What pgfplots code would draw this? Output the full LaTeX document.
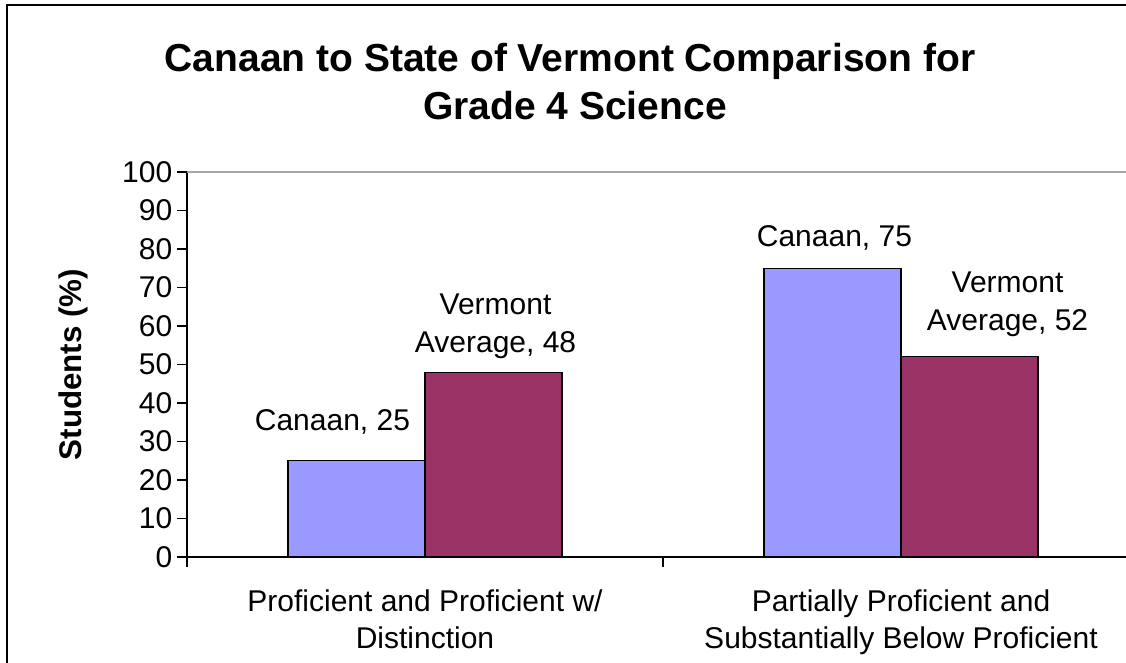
\documentclass[border=0pt]{standalone}
\usepackage{pgfplots}
\pgfplotsset{compat=1.18}
\usepackage{pgfplotstable}
\usepackage{fontspec}
\setmainfont{Liberation Sans}
\definecolor{canaanc}{HTML}{9999FF}
\definecolor{vermontc}{HTML}{993366}

\pgfplotstableread{
x y dx dy label
0 25 -24 26 {Canaan, 25}
1 75 2 17 {Canaan, 75}
}\tcanaan
\pgfplotstableread{
x y dx dy label
0 48 2 13 {Vermont\\Average, 48}
1 52 38 19 {Vermont\\Average, 52}
}\tvermont

\newcommand\lblfont{\fontsize{22.5}{28.5}\selectfont}

\begin{document}
\begin{tikzpicture}[x=0.75pt,y=0.75pt]
\useasboundingbox (0,0) rectangle (1126,662);
\clip (0,0) rectangle (1126,662);
\fill[white] (0,0) rectangle (1126,662);
\draw[line width=1.5pt] (7,-20) -- (7,657) -- (1140,657);
\node[anchor=base, font=\fontsize{29.25}{35}\bfseries\selectfont] at (570,590) {Canaan to State of Vermont Comparison for};
\node[anchor=base, font=\fontsize{29.25}{35}\bfseries\selectfont] at (575,542) {Grade 4 Science};
\begin{axis}[
  at={(140.25pt,78.75pt)}, anchor=south west,
  scale only axis, width=714pt, height=288.75pt,
  ybar, bar width=0.288,
  xmin=-0.5, xmax=1.5, ymin=0, ymax=100,
  ytick={0,10,...,100},
  xtick={-0.5,0.5,1.5}, xticklabels={},
  extra x ticks={0,1},
  extra x tick labels={{Proficient and Proficient w/\\Distinction},{Partially Proficient and\\Substantially Below Proficient}},
  extra x tick style={major tick length=0pt},
  axis lines*=left,
  axis line style={-, line width=1pt, black},
  tick align=outside,
  major tick length=7.5pt,
  tick style={black, line width=0.8pt},
  /pgf/number format/assume math mode=true,
  tick label style={font=\lblfont},
  xticklabel style={align=center, font=\fontsize{22.5}{28}\selectfont, yshift=-21pt},
  every axis y label/.style={at={(axis description cs:-0.1197,0.5)}, rotate=90, anchor=center},
  ylabel={\fontsize{23.5}{28}\bfseries\selectfont Students (\%)},
  clip=false,
]
\draw[gray!70, line width=1.2pt] (rel axis cs:0,1) -- (rel axis cs:1,1);
\addplot[fill=canaanc, draw=black, line width=1pt, bar shift=-0.144,
  point meta=explicit symbolic, nodes near coords,
  visualization depends on={\thisrow{dx}\as\labdx},
  visualization depends on={\thisrow{dy}\as\labdy},
  every node near coord/.append style={anchor=south, inner sep=0pt, align=center, text=black,
    xshift=\labdx*0.75pt, yshift=\labdy*0.75pt, font=\lblfont}]
  table[x=x, y=y, meta=label] {\tcanaan};
\addplot[fill=vermontc, draw=black, line width=1pt, bar shift=0.144,
  point meta=explicit symbolic, nodes near coords,
  visualization depends on={\thisrow{dx}\as\labdx},
  visualization depends on={\thisrow{dy}\as\labdy},
  every node near coord/.append style={anchor=south, inner sep=0pt, align=center, text=black,
    xshift=\labdx*0.75pt, yshift=\labdy*0.75pt, font=\lblfont}]
  table[x=x, y=y, meta=label] {\tvermont};
\end{axis}
\end{tikzpicture}
\end{document}
